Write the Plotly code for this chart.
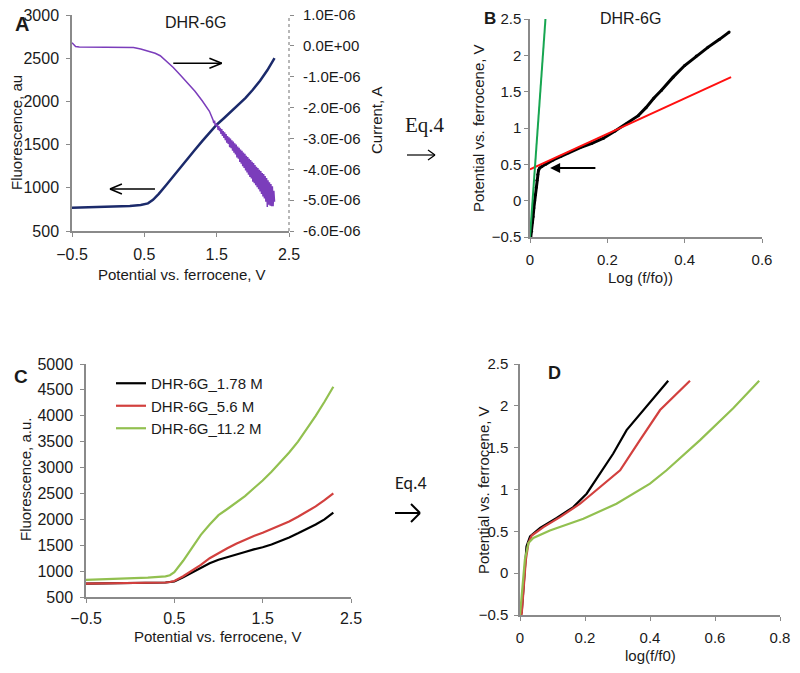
import plotly.graph_objects as go

# the page body keeps its default 8 px margin, so the figure is 8 px smaller
# and all reference pixel positions are shifted by that margin
W, H = 800, 673
BODY = 8

# ---- panel A : fluorescence (left) and current (right, in 1E-06 A) vs potential
a_fl_x = [-0.5, -0.3, 0.0, 0.3, 0.45, 0.55, 0.62, 0.7, 0.8, 0.9, 1.0, 1.1, 1.2, 1.3, 1.4, 1.5,
          1.6, 1.7, 1.8, 1.9, 2.0, 2.1, 2.2, 2.3]
a_fl_y = [770, 775, 780, 790, 800, 820, 860, 930, 1030, 1135, 1240, 1340, 1440, 1540, 1640, 1730,
          1805, 1880, 1960, 2040, 2135, 2240, 2360, 2500]

a_cur_x = [-0.5, -0.45, -0.4, -0.3, -0.2, 0.0, 0.2, 0.35, 0.45, 0.55, 0.65, 0.72, 0.8, 0.9, 1.0,
           1.1, 1.2, 1.3, 1.4,
           1.45, 1.46, 1.47, 1.48, 1.49, 1.50, 1.51, 1.52, 1.53, 1.54, 1.55, 1.56, 1.57, 1.58,
           1.59, 1.60, 1.61, 1.62, 1.63, 1.64, 1.65, 1.66, 1.67, 1.68, 1.69, 1.70, 1.71, 1.72,
           1.73, 1.74, 1.75, 1.76, 1.77, 1.78, 1.79, 1.80, 1.81, 1.82, 1.83, 1.84, 1.85, 1.86,
           1.87, 1.88, 1.89, 1.90, 1.91, 1.92, 1.93, 1.94, 1.95, 1.96, 1.97, 1.98, 1.99, 2.00,
           2.01, 2.02, 2.03, 2.04, 2.05, 2.06, 2.07, 2.08, 2.09, 2.10, 2.11, 2.12, 2.13, 2.14,
           2.15, 2.16, 2.17, 2.18, 2.19, 2.20, 2.21, 2.22, 2.23, 2.24, 2.25, 2.26, 2.27, 2.28,
           2.29, 2.30]
a_cur_y = [0.10, -0.02, -0.04, -0.04, -0.03, -0.03, -0.03, -0.05, -0.10, -0.17, -0.24, -0.32,
           -0.48, -0.70, -0.95, -1.20, -1.47, -1.78, -2.12,
           -2.40, -2.50, -2.42, -2.58, -2.52, -2.62, -2.55, -2.72, -2.60, -2.76, -2.66, -2.85,
           -2.70, -2.92, -2.76, -2.98, -2.80, -3.06, -2.86, -3.14, -2.92, -3.18, -2.96, -3.28,
           -3.00, -3.32, -3.06, -3.40, -3.10, -3.46, -3.16, -3.52, -3.20, -3.62, -3.26, -3.66,
           -3.30, -3.76, -3.36, -3.82, -3.40, -3.90, -3.46, -3.96, -3.50, -4.04, -3.56, -4.10,
           -3.60, -4.18, -3.66, -4.25, -3.70, -4.30, -3.76, -4.40, -3.80, -4.45, -3.86, -4.52,
           -3.92, -4.58, -3.96, -4.65, -4.02, -4.72, -4.06, -4.80, -4.12, -4.88, -4.15, -4.95,
           -4.22, -5.05, -4.28, -5.22, -4.36, -5.15, -4.42, -5.18, -4.48, -5.20, -4.55, -5.20,
           -4.70, -5.05]

cur_tickvals = [1, 0, -1, -2, -3, -4, -5, -6]
cur_ticktext = ["1.0E-06", "0.0E+00", "-1.0E-06", "-2.0E-06", "-3.0E-06", "-4.0E-06",
                "-5.0E-06", "-6.0E-06"]

# ---- panel B : potential vs log(f/fo)
b_x = [0.002, 0.004, 0.006, 0.008, 0.010, 0.012, 0.014, 0.016, 0.018, 0.020, 0.022, 0.025,
       0.030, 0.040, 0.060, 0.080, 0.100, 0.130, 0.160, 0.190, 0.220, 0.250, 0.280, 0.300,
       0.320, 0.340, 0.370, 0.400, 0.430, 0.460, 0.490, 0.515]
b_y = [-0.50, -0.42, -0.30, -0.22, -0.10, 0.00, 0.08, 0.18, 0.28, 0.36, 0.42, 0.45,
       0.47, 0.50, 0.56, 0.61, 0.66, 0.73, 0.79, 0.86, 0.96, 1.06, 1.17, 1.28,
       1.41, 1.52, 1.70, 1.86, 1.99, 2.11, 2.22, 2.32]
b_fit_red_x = [0.0, 0.52]
b_fit_red_y = [0.43, 1.70]
b_fit_green_x = [0.0, 0.04]
b_fit_green_y = [-0.5, 2.5]

# ---- panel C : fluorescence for three concentrations
c_x = [-0.5, -0.2, 0.0, 0.2, 0.4, 0.45, 0.5, 0.6, 0.7, 0.8, 0.9, 1.0, 1.1, 1.2, 1.3, 1.4, 1.5,
       1.6, 1.7, 1.8, 1.9, 2.0, 2.1, 2.2, 2.3]
c_black = [760, 765, 765, 770, 780, 790, 800, 880, 970, 1060, 1150, 1220, 1275, 1320, 1370,
           1420, 1460, 1515, 1580, 1650, 1730, 1810, 1900, 2000, 2130]
c_red = [760, 765, 765, 770, 780, 790, 810, 900, 1010, 1120, 1250, 1350, 1440, 1530, 1610,
         1680, 1740, 1810, 1880, 1960, 2050, 2145, 2250, 2370, 2500]
c_green = [830, 845, 860, 875, 900, 920, 980, 1200, 1450, 1700, 1900, 2080, 2200, 2320, 2450,
           2600, 2750, 2920, 3100, 3290, 3500, 3740, 4000, 4270, 4560]
c_names = ["DHR-6G_1.78 M", "DHR-6G_5.6 M", "DHR-6G_11.2 M"]

# ---- panel D : potential vs log(f/f0) for three concentrations
d_black_x = [0.005, 0.010, 0.015, 0.020, 0.031, 0.062, 0.113, 0.164, 0.205, 0.246, 0.287,
             0.328, 0.390, 0.456]
d_black_y = [-0.48, -0.20, 0.12, 0.32, 0.44, 0.54, 0.66, 0.79, 0.95, 1.19, 1.43, 1.71, 1.99, 2.30]
d_red_x = [0.005, 0.012, 0.018, 0.026, 0.036, 0.072, 0.123, 0.185, 0.246, 0.308, 0.369,
           0.431, 0.523]
d_red_y = [-0.50, -0.12, 0.16, 0.36, 0.45, 0.55, 0.67, 0.83, 1.03, 1.23, 1.59, 1.95, 2.30]
d_green_x = [0.0, 0.008, 0.015, 0.026, 0.041, 0.092, 0.195, 0.297, 0.400, 0.451, 0.554,
             0.656, 0.736]
d_green_y = [-0.50, -0.12, 0.16, 0.36, 0.42, 0.51, 0.65, 0.83, 1.07, 1.23, 1.59, 1.97, 2.30]

BLACK = "#000000"
RED_C = "#d2403e"
GREEN_C = "#92c050"
AXC = "#8a8a8a"
TXT = "#1a1a1a"
FONT = "Arial, Liberation Sans, sans-serif"

FW, FH = W - BODY, H - BODY


def px(x):
    return (x - BODY) / FW


def py(y):
    return 1 - (y - BODY) / FH


fig = go.Figure()

# panel A
fig.add_trace(go.Scatter(x=a_fl_x, y=a_fl_y, mode="lines", line=dict(color="#1b2a6b", width=2.5),
                         xaxis="x", yaxis="y", showlegend=False))
fig.add_trace(go.Scatter(x=a_cur_x, y=a_cur_y, mode="lines", line=dict(color="#7b3dbb", width=1.5),
                         xaxis="x", yaxis="y5", showlegend=False))

# panel B
fig.add_trace(go.Scatter(x=b_x, y=b_y, mode="lines+markers", line=dict(color=BLACK, width=3),
                         marker=dict(size=3, color=BLACK), xaxis="x2", yaxis="y2", showlegend=False))
fig.add_trace(go.Scatter(x=b_fit_red_x, y=b_fit_red_y, mode="lines", line=dict(color="#ff1010", width=2),
                         xaxis="x2", yaxis="y2", showlegend=False))
fig.add_trace(go.Scatter(x=b_fit_green_x, y=b_fit_green_y, mode="lines", line=dict(color="#17a651", width=2),
                         xaxis="x2", yaxis="y2", showlegend=False))

# panel C
for ys, col, nm in zip([c_black, c_red, c_green], [BLACK, RED_C, GREEN_C], c_names):
    fig.add_trace(go.Scatter(x=c_x, y=ys, mode="lines", line=dict(color=col, width=2.2), name=nm,
                             xaxis="x3", yaxis="y3"))

# panel D
for xs, ys, col in [(d_black_x, d_black_y, BLACK), (d_red_x, d_red_y, RED_C), (d_green_x, d_green_y, GREEN_C)]:
    fig.add_trace(go.Scatter(x=xs, y=ys, mode="lines", line=dict(color=col, width=2.2),
                             xaxis="x4", yaxis="y4", showlegend=False))


def axis(size, standoff=0, **kw):
    d = dict(showgrid=False, zeroline=False, showline=True, linecolor=AXC, linewidth=1.5,
             ticks="outside", ticklen=4, tickcolor=AXC, tickwidth=1.2, automargin=False,
             ticklabelstandoff=standoff, ticklabeloverflow="allow",
             tickfont=dict(size=size, color=TXT))
    d.update(kw)
    return d


fig.update_layout(
    width=FW, height=FH, margin=dict(l=0, r=0, t=0, b=0, autoexpand=False),
    paper_bgcolor="white", plot_bgcolor="white",
    font=dict(family=FONT, color=TXT),
    xaxis=axis(16, 4, domain=[px(72), px(289)], anchor="y", range=[-0.5, 2.5], tick0=-0.5, dtick=1),
    yaxis=axis(16, 4, domain=[py(231), py(15)], anchor="x", range=[500, 3000], dtick=500),
    yaxis5=axis(15, 6, overlaying="y", side="right", anchor="x", range=[-6, 1],
                tickvals=cur_tickvals, ticktext=cur_ticktext, showline=False),
    xaxis2=axis(15, 4, domain=[px(530), px(762)], anchor="y2", range=[0, 0.6], dtick=0.2),
    yaxis2=axis(15, 0, domain=[py(237), py(19)], anchor="x2", range=[-0.5, 2.5], dtick=0.5),
    xaxis3=axis(16, 2, domain=[px(86), px(351)], anchor="y3", range=[-0.5, 2.5], tick0=-0.5, dtick=1),
    yaxis3=axis(16, 4, domain=[py(597), py(364)], anchor="x3", range=[500, 5000], dtick=500),
    xaxis4=axis(15, 4, domain=[px(520), px(780)], anchor="y4", range=[0, 0.8], dtick=0.2),
    yaxis4=axis(15, 3, domain=[py(615), py(364)], anchor="x4", range=[-0.5, 2.5], dtick=0.5),
    legend=dict(x=px(111), y=py(367), xanchor="left", yanchor="top", bgcolor="rgba(0,0,0,0)",
                font=dict(size=15, color=TXT), tracegroupgap=0),
)

# dashed right axis line of panel A
fig.add_shape(type="line", xref="paper", yref="paper", x0=px(289), x1=px(289), y0=py(231), y1=py(15),
              line=dict(color="#a0a0a0", width=1.5, dash="dot"))


def label(x, y, text, size=15, bold=False, angle=0, family=FONT):
    if bold:
        text = "<b>" + text + "</b>"
    fig.add_annotation(x=px(x), y=py(y), xref="paper", yref="paper", text=text, showarrow=False,
                       textangle=angle, xanchor="center", yanchor="middle",
                       font=dict(size=size, family=family, color=TXT))


def seg(x0, y0, x1, y1, width=1.5, ref="paper"):
    if ref == "paper":
        fig.add_shape(type="line", xref="paper", yref="paper", x0=px(x0), y0=py(y0), x1=px(x1), y1=py(y1),
                      line=dict(color=BLACK, width=width))
    else:
        fig.add_shape(type="line", xref="x", yref="y", x0=x0, y0=y0, x1=x1, y1=y1,
                      line=dict(color=BLACK, width=width))


# panel letters and titles
label(22, 24, "A", size=20, bold=True)
label(490, 18, "B", size=17, bold=True)
label(21, 376, "C", size=19, bold=True)
label(554, 373, "D", size=18, bold=True)
label(195, 23, "DHR-6G", size=16)
label(630, 19, "DHR-6G", size=16)

# axis titles
label(16, 133, "Fluorescence, au", angle=-90)
label(182, 274, "Potential vs. ferrocene, V")
label(377, 120, "Current, A", angle=-90)
label(478, 128, "Potential vs. ferrocene, V", angle=-90)
label(640, 277, "Log (f/fo))")
label(25, 480, "Fluorescence, a.u.", angle=-90)
label(218, 636, "Potential vs. ferrocene, V")
label(483, 490, "Potential vs. ferrocene, V", angle=-90)
label(650, 655, "log(f/f0)")

# Eq.4 between panels, with arrows
label(425, 125, "Eq.4", size=21, family="Liberation Serif, Times New Roman, serif")
seg(407, 155, 435, 155, 1.2)
seg(428, 150, 435, 155, 1.2)
seg(428, 160, 435, 155, 1.2)
label(411, 483, "Eq.4", size=18, family="Carlito, Calibri, Liberation Sans, sans-serif")
seg(395, 513, 420, 513, 2)
seg(411, 504, 420, 513, 2)
seg(411, 522, 420, 513, 2)

# arrows inside panel A (data coordinates of the left axis)
seg(0.9, 2441, 1.57, 2441, 1.5, ref="x")
seg(1.40, 2383, 1.57, 2441, 1.5, ref="x")
seg(1.40, 2499, 1.57, 2441, 1.5, ref="x")
seg(0.025, 986, 0.647, 986, 1.5, ref="x")
seg(0.025, 986, 0.19, 1044, 1.5, ref="x")
seg(0.025, 986, 0.19, 928, 1.5, ref="x")

# arrow inside panel B
fig.add_annotation(x=0.052, y=0.448, ax=0.173, ay=0.448, xref="x2", yref="y2", axref="x2", ayref="y2",
                   showarrow=True, arrowhead=2, arrowsize=1, arrowwidth=2, arrowcolor=BLACK, text="")

fig.write_html("out.html")
